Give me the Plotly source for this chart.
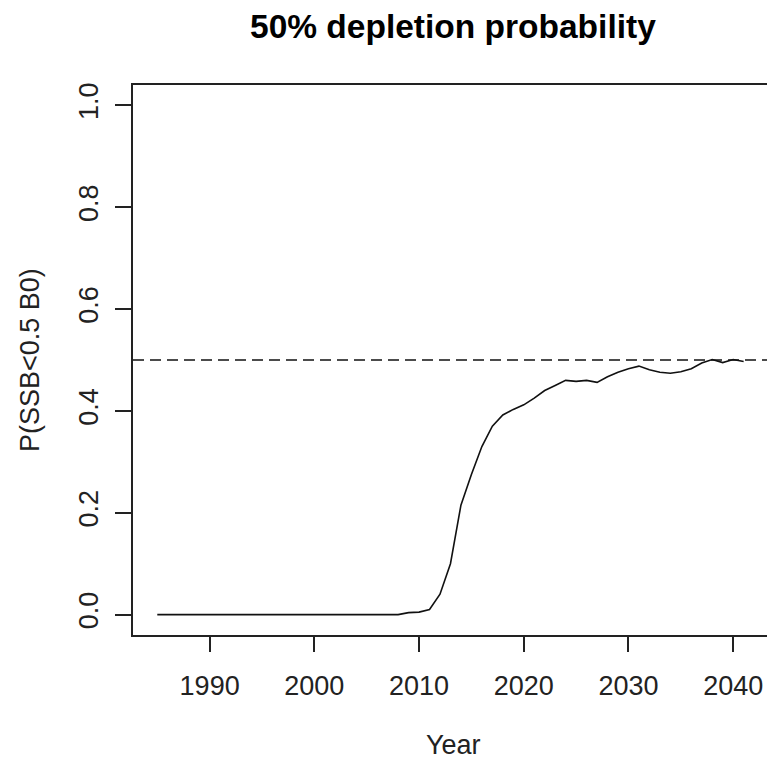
import plotly.graph_objects as go

years = list(range(1985, 2042))
prob = [0.0] * 23 + [  # 1985-2007
    0.000, 0.004, 0.005, 0.010, 0.040, 0.100, 0.215, 0.275, 0.330, 0.370,  # 2008-2017
    0.392, 0.403, 0.412, 0.425, 0.440, 0.450, 0.460, 0.458, 0.460, 0.456,  # 2018-2027
    0.467, 0.476, 0.483, 0.488, 0.481, 0.476, 0.474, 0.477, 0.483, 0.494,  # 2028-2037
    0.501, 0.495, 0.501, 0.497,  # 2038-2041
]
reference_level = 0.5
x_ticks = [1990, 2000, 2010, 2020, 2030, 2040]
y_ticks = [0.0, 0.2, 0.4, 0.6, 0.8, 1.0]
y_tick_text = ["0.0", "0.2", "0.4", "0.6", "0.8", "1.0"]

title_text = "50% depletion probability"
x_title = "Year"
y_title = "P(SSB<0.5 B0)"

FONT = "Liberation Sans, Arial, sans-serif"
TXT = "#222222"

fig = go.Figure()
fig.add_trace(go.Scatter(x=years, y=prob, mode="lines",
                         line=dict(color="#111111", width=1.6),
                         hoverinfo="skip", showlegend=False))

fig.add_shape(type="line", xref="paper", x0=0, x1=1, yref="y",
              y0=reference_level, y1=reference_level,
              line=dict(color="#111111", width=1.6, dash="11px,6px"))
# faint right border (image is cropped at the frame edge)
fig.add_shape(type="line", xref="paper", x0=1, x1=1, yref="paper", y0=0, y1=1,
              line=dict(color="#dddddd", width=1))

# page body has an 8px margin: figure is shrunk so the plot lands where the reference has it
fig.update_layout(
    width=767, height=756,
    margin=dict(l=125, r=1, t=77, b=129),
    paper_bgcolor="white", plot_bgcolor="white",
    font=dict(family=FONT, size=27, color=TXT),
    xaxis=dict(range=[1982.68, 2043.9], tickvals=x_ticks,
               ticks="outside", ticklen=15, tickwidth=1.5, tickcolor="#222222",
               showline=True, linewidth=1.6, linecolor="#222222", mirror=True,
               showgrid=False, zeroline=False,
               tickfont=dict(family=FONT, size=27, color=TXT),
               ticklabelstandoff=11),
    yaxis=dict(range=[-0.04, 1.04], tickvals=y_ticks, ticktext=y_tick_text,
               ticks="outside", ticklen=16, tickwidth=1.5, tickcolor="#222222",
               showline=True, linewidth=1.6, linecolor="#222222", mirror=False,
               showgrid=False, zeroline=False, tickangle=-90,
               tickfont=dict(family=FONT, size=27, color=TXT),
               ticklabelstandoff=6),
    annotations=[
        dict(text="<b>" + title_text + "</b>", xref="paper", yref="paper",
             x=(452.5 - 133) / 641, y=(635 - 27) / 550, xanchor="center", yanchor="middle",
             showarrow=False, font=dict(family=FONT, size=33.5, color="#000000")),
        dict(text=x_title, xref="paper", yref="paper",
             x=(453 - 133) / 641, y=(635 - 745) / 550, xanchor="center", yanchor="middle",
             showarrow=False, font=dict(family=FONT, size=27, color=TXT)),
        dict(text=y_title, xref="paper", yref="paper", textangle=-90,
             x=(30 - 133) / 641, y=0.5, xanchor="center", yanchor="middle",
             showarrow=False, font=dict(family=FONT, size=27, color=TXT)),
    ],
)

fig.write_html("out.html")
